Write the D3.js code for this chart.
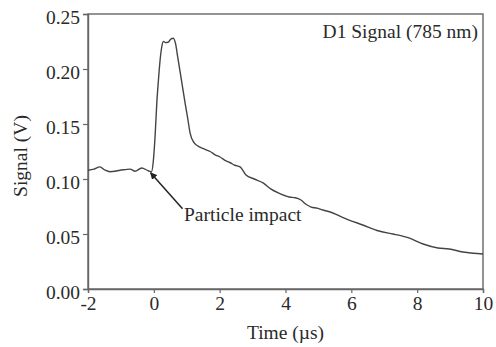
<!DOCTYPE html>
<html>
<head>
<meta charset="utf-8">
<script src="https://cdn.jsdelivr.net/npm/d3@7"></script>
<style>
  body { margin: 0; background: #fff; }
  text { font-family: "Liberation Serif", "DejaVu Serif", serif; fill: #2a2a2a; }
</style>
</head>
<body>
<div id="chart-area"></div>
<script>
// chart size
width = 496;
height = 347

// D1 signal trace (time in µs, signal in V)
let time = [-2.0, -1.82, -1.64, -1.48, -1.33, -1.18, -1.03, -0.87, -0.72, -0.57, -0.37, -0.17, -0.07,
  -0.02, 0.04, 0.09, 0.14, 0.19, 0.24, 0.29, 0.36, 0.44, 0.51, 0.59, 0.66, 0.72, 0.79, 0.87, 0.95,
  1.03, 1.10, 1.22, 1.40, 1.55, 1.71, 1.86, 2.01, 2.16, 2.31, 2.46, 2.62, 2.80, 3.05, 3.32, 3.55,
  3.78, 4.11, 4.30, 4.47, 4.62, 4.78, 4.96, 5.14, 5.44, 5.70, 5.93, 6.35, 6.84, 7.26, 7.50, 7.75,
  8.18, 8.63, 8.97, 9.39, 9.70, 10.0]
let signal = [0.108, 0.109, 0.111, 0.108, 0.1066, 0.107, 0.108, 0.1085, 0.109, 0.107, 0.110, 0.1075, 0.1066,
  0.115, 0.140, 0.169, 0.190, 0.208, 0.220, 0.225, 0.224, 0.2245, 0.227, 0.228, 0.223, 0.212, 0.199, 0.184, 0.169,
  0.155, 0.142, 0.133, 0.129, 0.127, 0.125, 0.122, 0.120, 0.117, 0.115, 0.1125, 0.111, 0.1036, 0.100, 0.0964, 0.091,
  0.0873, 0.0836, 0.0830, 0.0809, 0.077, 0.0745, 0.0735, 0.0718, 0.0691, 0.0655, 0.0627, 0.0582, 0.0527, 0.0500, 0.0485, 0.0464,
  0.0409, 0.0373, 0.0364, 0.0336, 0.0325, 0.0318]

let xTicks = [-2, 0, 2, 4, 6, 8, 10]
let yTicks = [0.00, 0.05, 0.10, 0.15, 0.20, 0.25]

// plot box
let plotLeft = 88, plotRight = 483, plotTop = 14, plotBottom = 289
let fontSize = 19.5

let xScale = d3.scaleLinear().domain([-2, 10]).range([plotLeft, plotRight])
let yScale = d3.scaleLinear().domain([0, 0.25]).range([plotBottom, plotTop])

svg = d3.select("#chart-area")
  .append("svg")
  .attr("width", width)
  .attr("height", height)

// frame
svg.append("rect")
  .attr("x", plotLeft)
  .attr("y", plotTop)
  .attr("width", plotRight - plotLeft)
  .attr("height", plotBottom - plotTop)
  .attr("fill", "none")
  .attr("stroke", "#666")
  .attr("stroke-width", 1.4)

// axes (plain hyphen for negative ticks, like the original)
let xAxis = d3.axisBottom(xScale).tickValues(xTicks).tickSize(4).tickPadding(3)
  .tickFormat(d => String(d))
let yAxis = d3.axisLeft(yScale).tickValues(yTicks).tickSize(5).tickPadding(3)
  .tickFormat(d3.format(".2f"))

let gx = svg.append("g")
  .attr("transform", "translate(0," + plotBottom + ")")
  .call(xAxis)

let gy = svg.append("g")
  .attr("transform", "translate(" + plotLeft + ",0)")
  .call(yAxis)

for (let g of [gx, gy]) {
  g.select(".domain").attr("stroke", "#666").attr("stroke-width", 1.4)
  g.selectAll(".tick line").attr("stroke", "#666").attr("stroke-width", 1.2)
  g.selectAll(".tick text")
    .attr("font-family", "Liberation Serif")
    .attr("font-size", fontSize)
    .attr("fill", "#2a2a2a")
}
gy.selectAll(".tick text").attr("dy", "0.5em")

// the trace
let line = d3.line()
  .x((d, i) => xScale(time[i]))
  .y(d => yScale(d))
  .curve(d3.curveMonotoneX)

svg.append("path")
  .datum(signal)
  .attr("d", line)
  .attr("fill", "none")
  .attr("stroke", "#444")
  .attr("stroke-width", 1.4)

// arrow marker
svg.append("defs").append("marker")
  .attr("id", "head")
  .attr("viewBox", "0 0 10 10")
  .attr("refX", 9)
  .attr("refY", 5)
  .attr("markerWidth", 7)
  .attr("markerHeight", 7)
  .attr("markerUnits", "userSpaceOnUse")
  .attr("orient", "auto")
  .append("path")
  .attr("d", "M0,0 L10,5 L0,10 z")
  .attr("fill", "#222")

// annotation: points at impact time on the trace
let impactT = -0.07, impactV = 0.1066
svg.append("line")
  .attr("x1", xScale(impactT) + 31)
  .attr("y1", yScale(impactV) + 37)
  .attr("x2", xScale(impactT) - 1)
  .attr("y2", yScale(impactV) + 1)
  .attr("stroke", "#222")
  .attr("stroke-width", 1.5)
  .attr("marker-end", "url(#head)")

svg.append("text")
  .attr("x", 184)
  .attr("y", 221)
  .attr("font-size", fontSize)
  .text("Particle impact")

svg.append("text")
  .attr("x", 478)
  .attr("y", 38)
  .attr("font-size", fontSize)
  .attr("text-anchor", "end")
  .text("D1 Signal (785 nm)")

// axis titles
svg.append("text")
  .attr("x", (plotLeft + plotRight) / 2)
  .attr("y", 339)
  .attr("font-size", fontSize)
  .attr("text-anchor", "middle")
  .text("Time (µs)")

svg.append("text")
  .attr("transform", "translate(" + 27 + "," + 156 + ") rotate(-90)")
  .attr("font-size", fontSize)
  .attr("text-anchor", "middle")
  .text("Signal (V)")
</script>
</body>
</html>
